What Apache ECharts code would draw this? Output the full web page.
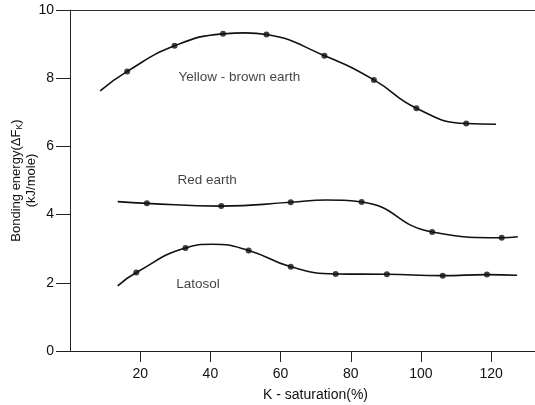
<!DOCTYPE html>
<html lang="en">
<head>
  <meta charset="UTF-8" />
  <script src="https://cdn.jsdelivr.net/npm/echarts@6/dist/echarts.min.js"></script>
  <title>Bonding energy</title>
  <style>
    body { margin: 0; background: #fff; }
  </style>
</head>
<body>
  <div id="main" style="width: 535px; height: 405px;"></div>
  <script type="text/javascript">
    // measured points (K saturation %, bonding energy kJ/mole)
    var yellowX = [16.3, 29.8, 43.6, 56.0, 72.5, 86.6, 98.7, 112.9];
    var yellowY = [8.2, 8.95, 9.3, 9.28, 8.66, 7.95, 7.12, 6.67];
    var redX = [21.9, 43.1, 62.9, 83.1, 103.2, 123.0];
    var redY = [4.33, 4.25, 4.36, 4.37, 3.49, 3.32];
    var latX = [18.9, 32.9, 50.9, 62.9, 75.7, 90.3, 106.2, 118.8];
    var latY = [2.30, 3.02, 2.95, 2.47, 2.26, 2.25, 2.21, 2.24];

    // drawn curve: start, a few extra read vertices, end
    var yellowCurveExtra = [[8.6, 7.63], [50.0, 9.33], [121.4, 6.65]];
    var redCurveExtra = [[13.6, 4.38], [73.0, 4.43], [127.6, 3.35]];
    var latCurveExtra = [[13.6, 1.91], [40.5, 3.13], [127.4, 2.22]];

    var xTicks = [20, 40, 60, 80, 100, 120];

    var labelNames = ["Yellow - brown earth", "Red earth", "Latosol"];
    var labelPos = [[30.9, 8.04], [30.6, 5.01], [30.3, 1.96]];

    function pairs(xs, ys) {
      return xs.map(function (x, i) { return [x, ys[i]]; });
    }
    function curve(xs, ys, extra) {
      return pairs(xs, ys).concat(extra).sort(function (a, b) { return a[0] - b[0]; });
    }

    var ink = "#111";
    var lineStyle = { color: ink, width: 1.6 };

    var myChart = echarts.init(document.getElementById("main"));
    myChart.setOption({
      animation: false,
      grid: { left: 70, right: 0, top: 10, bottom: 54, outerBoundsMode: "none", containLabel: false },
      xAxis: [
        {
          type: "value",
          min: 0,
          max: 132.5,
          name: "K - saturation(%)",
          nameLocation: "middle",
          nameGap: 37,
          nameMoveOverlap: false,
          nameTextStyle: { fontSize: 14, color: ink, fontFamily: "Liberation Sans", padding: [0, 0, 0, 26] },
          axisLine: { lineStyle: { color: "#222", width: 1 } },
          axisTick: { length: 11, customValues: xTicks, lineStyle: { color: "#222" } },
          axisLabel: {
            fontSize: 14,
            color: ink,
            margin: 16,
            customValues: xTicks,
            fontFamily: "Liberation Sans"
          },
          splitLine: { show: false }
        },
        {
          type: "value",
          position: "top",
          min: 0,
          max: 132.5,
          axisLine: { show: true, onZero: false, lineStyle: { color: "#333", width: 1 } },
          axisTick: { show: false },
          axisLabel: { show: false },
          splitLine: { show: false }
        }
      ],
      yAxis: {
        type: "value",
        min: 0,
        max: 10,
        interval: 2,
        name: "{a|Bonding energy(\u0394F}{s|K}{a|)}\n{a|(kJ/mole)}",
        nameLocation: "middle",
        nameRotate: 90,
        nameGap: 31,
        nameMoveOverlap: false,
        nameTextStyle: {
          color: ink,
          fontFamily: "Liberation Sans",
          rich: {
            a: { fontSize: 13, lineHeight: 15, color: ink, fontFamily: "Liberation Sans" },
            s: { fontSize: 9, lineHeight: 15, verticalAlign: "bottom", color: ink, fontFamily: "Liberation Sans" }
          }
        },
        axisLine: { show: true, lineStyle: { color: "#222", width: 1 } },
        axisTick: { show: true, length: 14, lineStyle: { color: "#222" } },
        axisLabel: { fontSize: 14, color: ink, margin: 16, fontFamily: "Liberation Sans" },
        splitLine: { show: false }
      },
      series: [
        { type: "line", data: curve(yellowX, yellowY, yellowCurveExtra), smooth: 0.5, showSymbol: false, lineStyle: lineStyle },
        { type: "line", data: curve(redX, redY, redCurveExtra), smooth: 0.5, showSymbol: false, lineStyle: lineStyle },
        { type: "line", data: curve(latX, latY, latCurveExtra), smooth: 0.5, showSymbol: false, lineStyle: lineStyle },
        {
          type: "scatter",
          data: pairs(yellowX, yellowY).concat(pairs(redX, redY), pairs(latX, latY)),
          symbolSize: 6,
          itemStyle: { color: ink }
        },
        {
          type: "scatter",
          data: labelPos.map(function (p, i) { return { name: labelNames[i], value: p }; }),
          symbolSize: 0,
          label: {
            show: true,
            position: "right",
            distance: 0,
            formatter: "{b}",
            fontSize: 13.5,
            color: ink,
            fontFamily: "Liberation Sans"
          }
        }
      ]
    });
  </script>
</body>
</html>
